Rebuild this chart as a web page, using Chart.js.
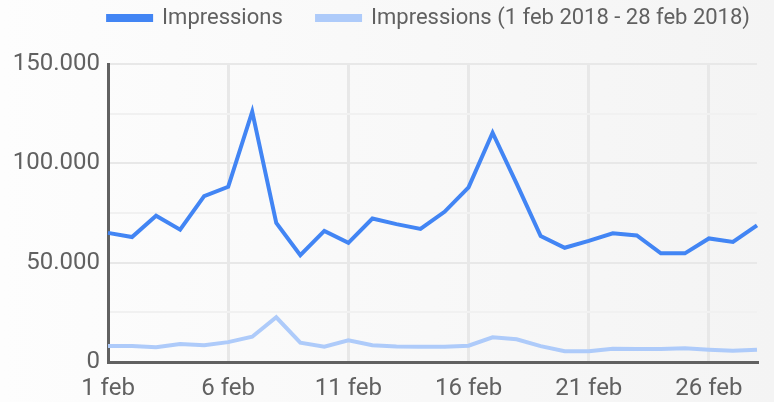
<!doctype html>
<html lang="nl">
<head>
<meta charset="utf-8">
<title>Impressions</title>
<script src="https://cdn.jsdelivr.net/npm/chart.js"></script>
<style>
  html, body { margin: 0; padding: 0; }
  body { width: 774px; height: 402px; background: linear-gradient(to right, #fdfdfd, #f4f4f4); }
  canvas { display: block; }
</style>
</head>
<body>
<canvas id="chart" width="774" height="402"></canvas>
<script>
  // dagen in februari
  const days = [];
  for (let d = 1; d <= 28; d++) days.push(d + ' feb');

  const impressions = [
    65000, 62900, 73600, 66600, 83500, 88200, 126000, 70000, 53800, 66000,
    60000, 72200, 69400, 67000, 75600, 87900, 115400, 89800, 63400, 57500,
    61000, 64800, 63700, 54700, 54700, 62200, 60400, 68800
  ];

  const impressionsPrev = [
    8000, 8000, 7400, 9000, 8400, 10000, 12700, 22500, 9700, 7700,
    10900, 8400, 7800, 7700, 7700, 8200, 12400, 11400, 8000, 5400,
    5400, 6700, 6500, 6500, 6900, 6200, 5700, 6200
  ];

  const seriesNames = ['Impressions', 'Impressions (1 feb 2018 - 28 feb 2018)'];
  const yTicks = [0, 50000, 100000, 150000];

  const textColor = '#616161';
  Chart.defaults.font.family = 'Roboto';
  Chart.defaults.color = textColor;

  const fmt = v => v.toLocaleString('de-DE');

  // legenda op één regel houden en hoger maken
  const legendHeight = {
    id: 'legendHeight',
    afterInit(chart) {
      const fit = chart.legend.fit;
      chart.legend.fit = function () {
        this.maxWidth = Math.max(this.maxWidth, 757);
        fit.call(this);
        this.height = 64;
      };
    }
  };

  new Chart(document.getElementById('chart'), {
    type: 'line',
    data: {
      labels: days,
      datasets: [
        {
          label: seriesNames[0] + '     ',
          data: impressions,
          borderColor: '#4285f4',
          backgroundColor: '#4285f4',
          borderWidth: 4,
          pointRadius: 0,
          tension: 0
        },
        {
          label: seriesNames[1],
          data: impressionsPrev,
          borderColor: '#aecbfa',
          backgroundColor: '#aecbfa',
          borderWidth: 4,
          pointRadius: 0,
          tension: 0
        }
      ]
    },
    options: {
      responsive: false,
      animation: false,
      layout: { padding: { left: 0, right: 17, top: 0, bottom: 0 } },
      plugins: {
        legend: {
          align: 'end',
          labels: {
            boxWidth: 43,
            boxHeight: 4,
            padding: 7,
            font: { size: 22 },
            color: textColor
          }
        },
        tooltip: { enabled: false }
      },
      scales: {
        x: {
          afterFit: s => { s.height = 40; },
          border: { color: textColor, width: 3 },
          grid: { color: '#e8e8e8', lineWidth: 3, drawTicks: false },
          ticks: {
            autoSkip: false,
            maxRotation: 0,
            padding: 13,
            font: { size: 24 },
            callback: (v, i) => (i % 5 === 0 ? days[i] : null)
          }
        },
        y: {
          min: 0,
          max: 150000,
          afterFit: s => { s.width = 108; },
          border: { color: textColor, width: 3 },
          grid: {
            drawTicks: false,
            lineWidth: 2,
            color: c => (yTicks.includes(c.tick.value) ? '#e8e8e8' : '#f1f1f1')
          },
          ticks: {
            stepSize: 25000,
            padding: 8,
            font: { size: 24 },
            callback: v => (yTicks.includes(v) ? fmt(v) : '')
          }
        }
      }
    },
    plugins: [legendHeight]
  });
</script>
</body>
</html>
